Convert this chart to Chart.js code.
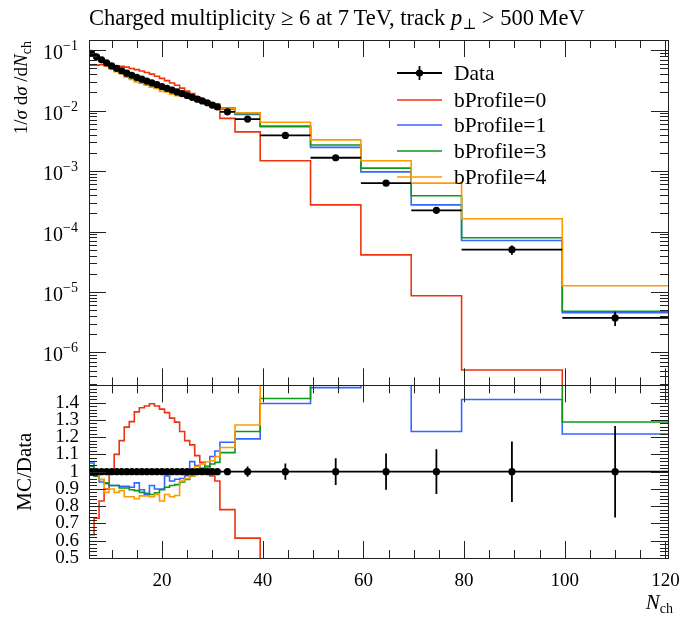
<!DOCTYPE html>
<html lang="en">
<head>
<meta charset="UTF-8">
<title>Charged multiplicity, 7 TeV</title>
<script src="https://cdn.jsdelivr.net/npm/chart.js"></script>
<style>
  html, body { margin: 0; padding: 0; background: #fff; }
  #chart { display: block; }
</style>
</head>
<body>
<canvas id="chart" width="682" height="619"></canvas>
<script>
// bin edges in N_ch (width 1 up to 31.5, then wider bins)
const binEdges = [5.5, 6.5, 7.5, 8.5, 9.5, 10.5, 11.5, 12.5, 13.5, 14.5, 15.5, 16.5, 17.5,
  18.5, 19.5, 20.5, 21.5, 22.5, 23.5, 24.5, 25.5, 26.5, 27.5, 28.5, 29.5, 30.5, 31.5,
  34.5, 39.5, 49.5, 59.5, 69.5, 79.5, 99.5, 120.5];

// 1/sigma dsigma/dN_ch, data
const dataVals = [0.0891, 0.0776, 0.0692, 0.0617, 0.0550, 0.0501, 0.0457, 0.0417, 0.0385,
  0.0355, 0.0331, 0.0309, 0.0288, 0.0269, 0.0251, 0.0234, 0.0219, 0.0204, 0.0191, 0.0178,
  0.0166, 0.0155, 0.0145, 0.0135, 0.0123, 0.0115,
  0.00955, 0.00724, 0.00389, 0.00166, 0.000631, 0.000224, 0.0000501, 0.00000372];
// relative uncertainty of the data
const dataRelErr = [0.004, 0.004, 0.004, 0.004, 0.004, 0.004, 0.004, 0.004, 0.004, 0.004,
  0.004, 0.004, 0.004, 0.004, 0.004, 0.004, 0.004, 0.004, 0.004, 0.004, 0.004, 0.004,
  0.004, 0.004, 0.004, 0.004,
  0.015, 0.03, 0.047, 0.077, 0.105, 0.13, 0.175, 0.265];

// MC / Data
const ratioB0 = [0.635, 0.73, 0.83, 0.90, 1.00, 1.10, 1.18, 1.258, 1.29, 1.346, 1.37, 1.38,
  1.393, 1.38, 1.362, 1.342, 1.31, 1.287, 1.233, 1.18, 1.155, 1.093, 1.054, 1.03, 0.975, 0.946,
  0.78, 0.615, 0.38, 0.166, 0.065, 0.0386, 0.0102, 0];
const ratioB1 = [1.05, 0.975, 0.94, 0.93, 0.92, 0.92, 0.915, 0.915, 0.91, 0.935, 0.895, 0.87,
  0.92, 0.90, 0.90, 0.975, 0.946, 0.956, 0.96, 0.976, 1.058, 1.035, 1.02, 1.03, 1.088, 1.12,
  1.17, 1.19, 1.395, 1.487, 1.54, 1.233, 1.418, 1.218];
const ratioB3 = [1.03, 0.975, 0.955, 0.935, 0.92, 0.92, 0.905, 0.905, 0.895, 0.89, 0.88, 0.875,
  0.868, 0.878, 0.895, 0.91, 0.92, 0.925, 0.94, 0.955, 0.975, 0.99, 1.018, 1.03, 1.044, 1.054,
  1.11, 1.233, 1.424, 1.63, 1.77, 1.74, 1.57, 1.288];
const ratioB4 = [1.0, 0.99, 0.955, 0.88, 0.90, 0.88, 0.89, 0.855, 0.855, 0.843, 0.86, 0.86,
  0.855, 0.868, 0.83, 0.868, 0.855, 0.862, 0.946, 0.96, 0.976, 1.03, 1.044, 1.057, 1.063, 1.088,
  1.14, 1.27, 1.65, 1.98, 2.35, 2.82, 3.24, 3.4];

const seriesNames = ['bProfile=0', 'bProfile=1', 'bProfile=3', 'bProfile=4'];
const seriesColors = ['#ee3311', '#3366ff', '#109618', '#ff9900'];

const xTickLabels = [20, 40, 60, 80, 100, 120];
const logTickLabels = [1e-1, 1e-2, 1e-3, 1e-4, 1e-5, 1e-6];
const ratioTickLabels = [0.5, 0.6, 0.7, 0.8, 0.9, 1.0, 1.1, 1.2, 1.3, 1.4];

const SERIF = "'Liberation Serif', 'DejaVu Serif', serif";

// histogram outline: two points per bin, at its edges
function histPoints(vals) {
  const pts = [];
  vals.forEach((v, i) => {
    pts.push({x: binEdges[i], y: v});
    pts.push({x: binEdges[i + 1], y: v});
  });
  return pts;
}
function centers() {
  return dataVals.map((v, i) => (binEdges[i] + binEdges[i + 1]) / 2);
}
// error bars as broken line segments
function errorBars(vals, errs) {
  const pts = [];
  const c = centers();
  vals.forEach((v, i) => {
    pts.push({x: binEdges[i], y: v}, {x: binEdges[i + 1], y: v}, {x: binEdges[i + 1], y: null});
    pts.push({x: c[i], y: v - errs[i]}, {x: c[i], y: v + errs[i]}, {x: c[i], y: null});
  });
  return pts;
}

const ratios = [ratioB0, ratioB1, ratioB3, ratioB4];
const mcVals = ratios.map(r => r.map((q, i) => q > 0 ? q * dataVals[i] : 1e-12));

const datasets = [];
// data first so that it is drawn on top
datasets.push({
  type: 'scatter', data: centers().map((x, i) => ({x, y: dataVals[i]})), yAxisID: 'y',
  pointRadius: 3.6, pointBackgroundColor: '#000', pointBorderWidth: 0, showLine: false
});
datasets.push({
  data: errorBars(dataVals, dataVals.map((v, i) => v * dataRelErr[i])), yAxisID: 'y',
  borderColor: '#000', borderWidth: 1.8, pointRadius: 0, spanGaps: false
});
datasets.push({
  type: 'scatter', data: centers().map(x => ({x, y: 1})), yAxisID: 'yr',
  pointRadius: 3.6, pointBackgroundColor: '#000', pointBorderWidth: 0, showLine: false
});
datasets.push({
  data: errorBars(dataVals.map(() => 1), dataRelErr), yAxisID: 'yr',
  borderColor: '#000', borderWidth: 1.8, pointRadius: 0, spanGaps: false
});
for (let s = 3; s >= 0; s--) {
  datasets.push({
    data: histPoints(mcVals[s]), yAxisID: 'y',
    borderColor: seriesColors[s], borderWidth: 1.6, pointRadius: 0
  });
  datasets.push({
    data: histPoints(ratios[s]), yAxisID: 'yr',
    borderColor: seriesColors[s], borderWidth: 1.6, pointRadius: 0
  });
}

function line(ctx, x1, y1, x2, y2) {
  ctx.beginPath(); ctx.moveTo(x1, y1); ctx.lineTo(x2, y2); ctx.stroke();
}
function drawRich(ctx, segs, x, y) {
  for (const s of segs) {
    ctx.font = s.font;
    ctx.fillText(s.t, x, y + (s.dy || 0));
    x += ctx.measureText(s.t).width;
  }
}
function richWidth(ctx, segs) {
  let w = 0;
  for (const s of segs) { ctx.font = s.font; w += ctx.measureText(s.t).width; }
  return w;
}

const panelPlugin = {
  id: 'panelPlugin',
  beforeDatasetDraw(chart, args) {
    const ys = chart.scales[args.meta.yAxisID];
    const a = chart.chartArea;
    const ctx = chart.ctx;
    ctx.save();
    ctx.beginPath();
    ctx.rect(a.left, ys.top, a.right - a.left, ys.bottom - ys.top);
    ctx.clip();
  },
  afterDatasetDraw(chart) {
    chart.ctx.restore();
  },
  afterDraw(chart) {
    const ctx = chart.ctx;
    const a = chart.chartArea;
    const xs = chart.scales.x, yl = chart.scales.y, yr = chart.scales.yr;
    ctx.save();
    ctx.strokeStyle = '#222';
    ctx.lineWidth = 1;

    // frames
    [yl, yr].forEach(ys => {
      ctx.strokeRect(Math.round(a.left) + 0.5, Math.round(ys.top) + 0.5,
        Math.round(a.right - a.left), Math.round(ys.bottom - ys.top));
    });

    // x ticks on both panels, top and bottom edges
    [yl, yr].forEach(ys => {
      for (let v = 10; v <= 120; v += 5) {
        const px = Math.round(xs.getPixelForValue(v)) + 0.5;
        const len = v % 20 === 0 ? 17 : 8;
        line(ctx, px, ys.top, px, ys.top + len);
        line(ctx, px, ys.bottom, px, ys.bottom - len);
      }
    });

    // log y ticks
    for (let e = -7; e <= -1; e++) {
      for (let k = 1; k <= 9; k++) {
        const v = k * Math.pow(10, e);
        if (v < yl.min || v > yl.max) continue;
        const py = Math.round(yl.getPixelForValue(v)) + 0.5;
        const len = k === 1 ? 17 : 8;
        line(ctx, a.left, py, a.left + len, py);
        line(ctx, a.right, py, a.right - len, py);
      }
    }
    // ratio y ticks
    for (let i = 25; i <= 75; i++) {
      const v = i * 0.02;
      const py = Math.round(yr.getPixelForValue(v)) + 0.5;
      const len = i % 5 === 0 ? 17 : 8;
      line(ctx, a.left, py, a.left + len, py);
      line(ctx, a.right, py, a.right - len, py);
    }

    ctx.fillStyle = '#000';
    ctx.textBaseline = 'alphabetic';

    // log tick labels 10^-n
    logTickLabels.forEach(v => {
      const py = yl.getPixelForValue(v);
      const n = Math.round(Math.log10(v));
      const segs = [
        {t: '10', font: '20px ' + SERIF, dy: 0},
        {t: '\u2212' + (-n), font: '14px ' + SERIF, dy: -9}
      ];
      const w = richWidth(ctx, segs);
      drawRich(ctx, segs, 78 - w, py + 9);
    });

    // title
    drawRich(ctx, [
      {t: 'Charged multiplicity \u2265 6 at 7\u2009TeV, track ', font: '22.5px ' + SERIF},
      {t: 'p', font: 'italic 22.5px ' + SERIF},
      {t: '\u22a5', font: '15px ' + SERIF, dy: 4},
      {t: ' > 500\u2009MeV', font: '22.5px ' + SERIF}
    ], 89, 25);

    // y axis titles
    ctx.save();
    ctx.translate(27, a.top + 1);
    ctx.rotate(-Math.PI / 2);
    const ySegs = [
      {t: '1/', font: '19px ' + SERIF},
      {t: '\u03c3', font: 'italic 19px ' + SERIF},
      {t: ' d', font: '19px ' + SERIF},
      {t: '\u03c3', font: 'italic 19px ' + SERIF},
      {t: ' /d', font: '19px ' + SERIF},
      {t: 'N', font: 'italic 19px ' + SERIF},
      {t: 'ch', font: '14px ' + SERIF, dy: 4}
    ];
    drawRich(ctx, ySegs, -richWidth(ctx, ySegs), 0);
    ctx.restore();

    ctx.save();
    ctx.translate(31, (yr.top + yr.bottom) / 2);
    ctx.rotate(-Math.PI / 2);
    ctx.font = '21px ' + SERIF;
    ctx.textAlign = 'center';
    ctx.fillText('MC/Data', 0, 0);
    ctx.restore();

    // x axis title
    const xSegs = [
      {t: 'N', font: 'italic 21px ' + SERIF},
      {t: 'ch', font: '14px ' + SERIF, dy: 4}
    ];
    drawRich(ctx, xSegs, 673 - richWidth(ctx, xSegs), 609);

    // legend
    const lx0 = 397, lx1 = 442, tx = 454;
    const rows = [73, 100, 125, 151, 177];
    ctx.strokeStyle = '#000';
    ctx.lineWidth = 1.8;
    line(ctx, lx0, rows[0], lx1, rows[0]);
    line(ctx, (lx0 + lx1) / 2, rows[0] - 7, (lx0 + lx1) / 2, rows[0] + 7);
    ctx.beginPath();
    ctx.arc((lx0 + lx1) / 2, rows[0], 3.6, 0, Math.PI * 2);
    ctx.fill();
    ctx.font = '21.5px ' + SERIF;
    ctx.textBaseline = 'middle';
    ctx.fillText('Data', tx, rows[0] + 1);
    seriesNames.forEach((name, i) => {
      ctx.strokeStyle = seriesColors[i];
      ctx.lineWidth = 1.6;
      line(ctx, lx0, rows[i + 1], lx1, rows[i + 1]);
      ctx.fillText(name, tx, rows[i + 1] + 1);
    });
    ctx.restore();
  }
};

Chart.defaults.font.family = SERIF;
Chart.defaults.color = '#000';

new Chart(document.getElementById('chart'), {
  type: 'line',
  data: {datasets},
  options: {
    responsive: false,
    animation: false,
    events: [],
    devicePixelRatio: 1,
    layout: {padding: {top: 40, right: 14, left: 0, bottom: 0}},
    elements: {line: {tension: 0, fill: false}},
    plugins: {legend: {display: false}, title: {display: false}, tooltip: {enabled: false}},
    scales: {
      x: {
        type: 'linear', min: 5.5, max: 120.5, position: 'bottom',
        grid: {display: false, drawTicks: false}, border: {display: false},
        afterBuildTicks: s => { s.ticks = xTickLabels.map(v => ({value: v})); },
        afterFit: s => { s.height = 61; s.paddingLeft = 0; s.paddingRight = 0; },
        ticks: {font: {size: 19}, padding: 12, maxRotation: 0, autoSkip: false,
          callback: v => String(v)}
      },
      yr: {
        type: 'linear', min: 0.5, max: 1.5, position: 'left',
        stack: 'panels', stackWeight: 1, weight: 0,
        grid: {display: false, drawTicks: false}, border: {display: false},
        afterBuildTicks: s => { s.ticks = ratioTickLabels.map(v => ({value: v})); },
        afterFit: s => { s.width = 89; s.paddingTop = 0; s.paddingBottom = 0; },
        ticks: {font: {size: 19}, padding: 10, autoSkip: false,
          callback: v => Math.abs(v - 1) < 1e-9 ? '1' : v.toFixed(1)}
      },
      y: {
        type: 'logarithmic', min: 2.85e-7, max: 0.1475, position: 'left',
        stack: 'panels', stackWeight: 2, weight: 1,
        grid: {display: false, drawTicks: false}, border: {display: false},
        afterBuildTicks: s => { s.ticks = logTickLabels.map(v => ({value: v})); },
        afterFit: s => { s.width = 89; },
        ticks: {display: false}
      }
    }
  },
  plugins: [panelPlugin]
});
</script>
</body>
</html>
